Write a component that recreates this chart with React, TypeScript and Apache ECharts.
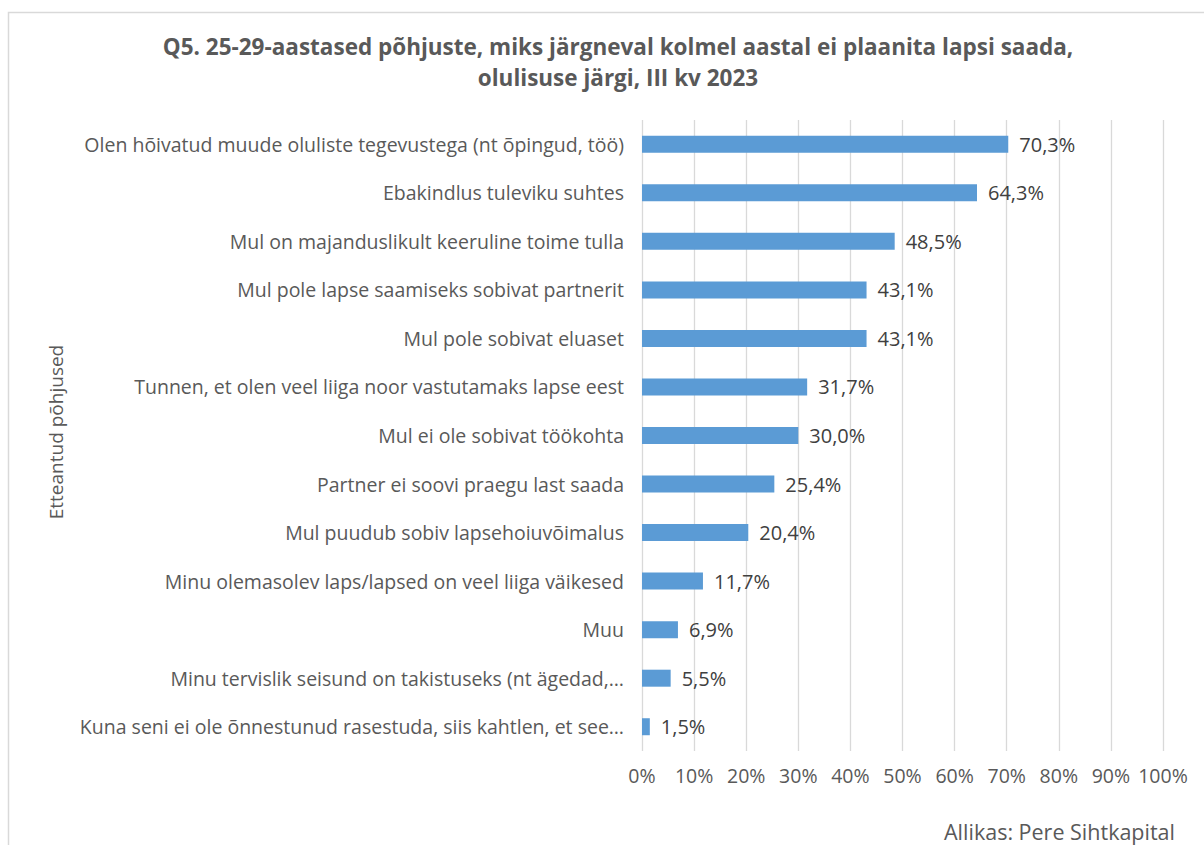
import React, { useEffect, useRef } from "react";
import * as echarts from "echarts";

const categories = [
  "Olen hõivatud muude oluliste tegevustega (nt õpingud, töö)",
  "Ebakindlus tuleviku suhtes",
  "Mul on majanduslikult keeruline toime tulla",
  "Mul pole lapse saamiseks sobivat partnerit",
  "Mul pole sobivat eluaset",
  "Tunnen, et olen veel liiga noor vastutamaks lapse eest",
  "Mul ei ole sobivat töökohta",
  "Partner ei soovi praegu last saada",
  "Mul puudub sobiv lapsehoiuvõimalus",
  "Minu olemasolev laps/lapsed on veel liiga väikesed",
  "Muu",
  "Minu tervislik seisund on takistuseks (nt ägedad,…",
  "Kuna seni ei ole õnnestunud rasestuda, siis kahtlen, et see…",
];
const values = [70.3, 64.3, 48.5, 43.1, 43.1, 31.7, 30.0, 25.4, 20.4, 11.7, 6.9, 5.5, 1.5];
const titleLines = [
  "Q5. 25-29-aastased põhjuste, miks järgneval kolmel aastal ei plaanita lapsi saada,",
  "olulisuse järgi, III kv 2023",
];
const yAxisName = "Etteantud põhjused";
const sourceText = "Allikas: Pere Sihtkapital";

const FONT = "'Open Sans', 'Noto Sans', sans-serif";

export default function App() {
  const ref = useRef<HTMLDivElement>(null);
  useEffect(() => {
    if (!ref.current) return;
    const chart = echarts.init(ref.current, undefined, { renderer: "svg" });
    chart.setOption({
      animation: false,
      backgroundColor: "#ffffff",
      textStyle: { fontFamily: FONT },
      grid: { left: 642, right: 41, top: 120, bottom: 94, containLabel: false },
      xAxis: {
        type: "value",
        min: 0,
        max: 100,
        interval: 10,
        axisLine: { show: false },
        axisTick: { show: false },
        axisLabel: {
          formatter: (v: number) => v + "%",
          color: "#595959",
          fontSize: 19.5,
          fontFamily: FONT,
          margin: 14,
        },
        splitLine: { show: true, lineStyle: { color: "#D9D9D9", width: 1.3 } },
      },
      yAxis: {
        type: "category",
        data: categories,
        inverse: true,
        axisLine: { show: false },
        axisTick: { show: false },
        axisLabel: {
          color: "#595959",
          fontSize: 19.5,
          fontFamily: FONT,
          margin: 18,
        },
      },
      series: [
        {
          type: "bar",
          data: values,
          barWidth: 17,
          itemStyle: { color: "#5B9BD5" },
          label: {
            show: true,
            position: "right",
            distance: 11,
            color: "#404040",
            fontSize: 20,
            fontFamily: FONT,
            formatter: (p: any) => p.value.toFixed(1).replace(".", ",") + "%",
          },
        },
      ],
      graphic: [
        {
          type: "rect",
          shape: { x: 8.5, y: 12.5, width: 1300, height: 900 },
          style: { fill: "none", stroke: "#D9D9D9", lineWidth: 1.5 },
          silent: true,
          z: -1,
        },
        {
          type: "text",
          x: 618,
          y: 46,
          style: {
            text: titleLines[0],
            fill: "#595959",
            font: `bold 22.5px ${FONT}`,
            textAlign: "center",
            textVerticalAlign: "middle",
          },
        },
        {
          type: "text",
          x: 618,
          y: 77,
          style: {
            text: titleLines[1],
            fill: "#595959",
            font: `bold 22.5px ${FONT}`,
            textAlign: "center",
            textVerticalAlign: "middle",
          },
        },
        {
          type: "text",
          x: 56,
          y: 432,
          rotation: Math.PI / 2,
          style: {
            text: yAxisName,
            fill: "#595959",
            font: `19px ${FONT}`,
            textAlign: "center",
            textVerticalAlign: "middle",
          },
        },
        {
          type: "text",
          x: 1175,
          y: 831,
          style: {
            text: sourceText,
            fill: "#595959",
            font: `21.5px ${FONT}`,
            textAlign: "right",
            textVerticalAlign: "middle",
          },
        },
      ],
    });
    return () => chart.dispose();
  }, []);
  return (
    <div
      ref={ref}
      style={{ position: "absolute", left: 0, top: 0, width: 1204, height: 845 }}
    />
  );
}
